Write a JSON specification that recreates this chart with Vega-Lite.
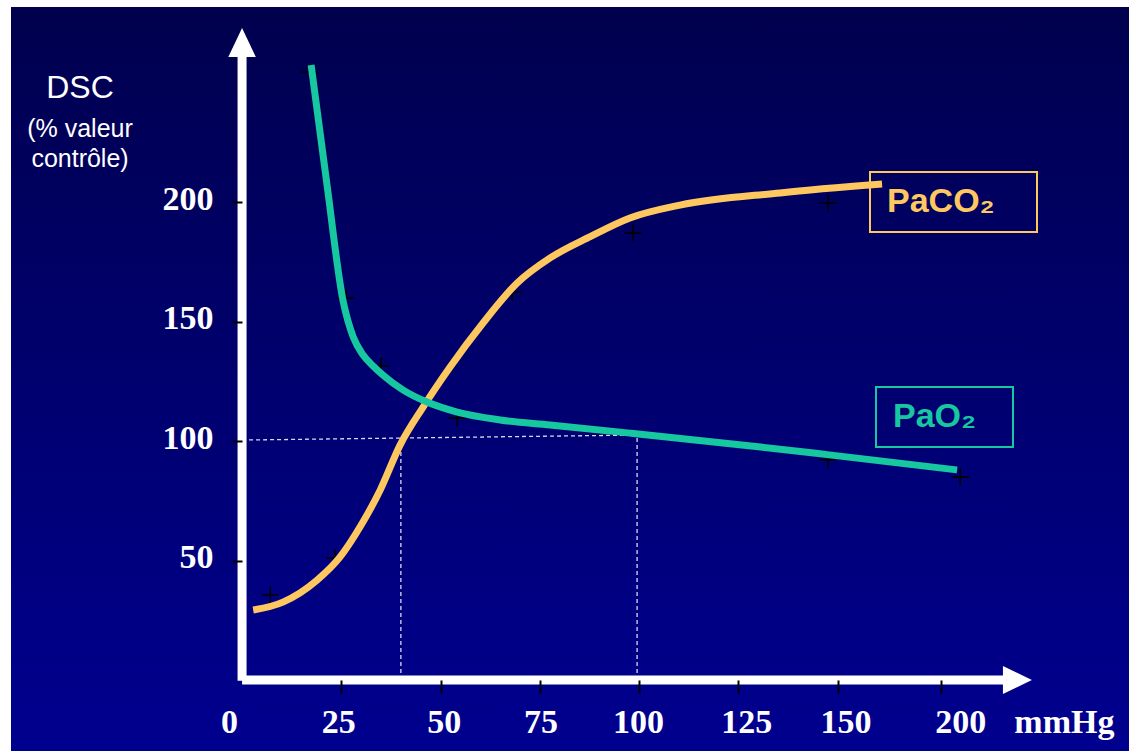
{
  "$schema": "https://vega.github.io/schema/vega-lite/v6.json",
  "width": 1118,
  "height": 744,
  "autosize": "none",
  "padding": {"left": 11, "top": 7, "right": 0, "bottom": 0},
  "background": "white",
  "view": {
    "fill": {"gradient": "linear", "x1": 0, "y1": 0, "x2": 0, "y2": 1,
      "stops": [{"offset": 0, "color": "#00004E"}, {"offset": 1, "color": "#00008F"}]},
    "stroke": null
  },
  "title": {
    "text": "DSC",
    "subtitle": ["(% valeur", "contrôle)"],
    "anchor": "start",
    "align": "center",
    "frame": "group",
    "offset": -166,
    "dx": 69,
    "font": "Liberation Sans",
    "fontSize": 32,
    "fontWeight": "normal",
    "color": "white",
    "subtitleFont": "Liberation Sans",
    "subtitleFontSize": 25,
    "subtitleColor": "white",
    "subtitlePadding": 12,
    "subtitleLineHeight": 30
  },
  "datasets": {
    "curves": [
      {"series": "PaCO₂", "mmHg": 2.8, "dsc": 29.3},
      {"series": "PaCO₂", "mmHg": 10.3, "dsc": 32.6},
      {"series": "PaCO₂", "mmHg": 18.9, "dsc": 41.8},
      {"series": "PaCO₂", "mmHg": 24.7, "dsc": 51.5},
      {"series": "PaCO₂", "mmHg": 29.7, "dsc": 64.0},
      {"series": "PaCO₂", "mmHg": 34.8, "dsc": 79.5},
      {"series": "PaCO₂", "mmHg": 39.8, "dsc": 98.3},
      {"series": "PaCO₂", "mmHg": 45.6, "dsc": 114.2},
      {"series": "PaCO₂", "mmHg": 52.4, "dsc": 131.0},
      {"series": "PaCO₂", "mmHg": 60.7, "dsc": 149.4},
      {"series": "PaCO₂", "mmHg": 69.3, "dsc": 166.1},
      {"series": "PaCO₂", "mmHg": 77.6, "dsc": 176.6},
      {"series": "PaCO₂", "mmHg": 87.7, "dsc": 185.5},
      {"series": "PaCO₂", "mmHg": 97.7, "dsc": 193.3},
      {"series": "PaCO₂", "mmHg": 110.3, "dsc": 198.7},
      {"series": "PaCO₂", "mmHg": 135.5, "dsc": 203.8},
      {"series": "PaCO₂", "mmHg": 161.2, "dsc": 207.5},
      {"series": "PaO₂", "mmHg": 17.4, "dsc": 257.3},
      {"series": "PaO₂", "mmHg": 21.4, "dsc": 207.1},
      {"series": "PaO₂", "mmHg": 25.4, "dsc": 159.0},
      {"series": "PaO₂", "mmHg": 28.0, "dsc": 143.5},
      {"series": "PaO₂", "mmHg": 30.5, "dsc": 136.0},
      {"series": "PaO₂", "mmHg": 33.0, "dsc": 131.4},
      {"series": "PaO₂", "mmHg": 35.5, "dsc": 127.6},
      {"series": "PaO₂", "mmHg": 40.6, "dsc": 121.3},
      {"series": "PaO₂", "mmHg": 46.6, "dsc": 116.3},
      {"series": "PaO₂", "mmHg": 54.2, "dsc": 112.1},
      {"series": "PaO₂", "mmHg": 65.0, "dsc": 108.8},
      {"series": "PaO₂", "mmHg": 77.6, "dsc": 106.7},
      {"series": "PaO₂", "mmHg": 97.7, "dsc": 103.3},
      {"series": "PaO₂", "mmHg": 130.6, "dsc": 97.5},
      {"series": "PaO₂", "mmHg": 147.4, "dsc": 94.3},
      {"series": "PaO₂", "mmHg": 180.1, "dsc": 87.9}
    ],
    "measures": [
      {"mmHg": 17.1, "dsc": 254.4},
      {"mmHg": 26.2, "dsc": 159.8},
      {"mmHg": 35.0, "dsc": 131.4},
      {"mmHg": 54.2, "dsc": 109.6},
      {"mmHg": 147.6, "dsc": 92.1},
      {"mmHg": 180.9, "dsc": 85.0},
      {"mmHg": 7.1, "dsc": 35.6},
      {"mmHg": 23.4, "dsc": 51.0},
      {"mmHg": 68.0, "dsc": 162.3},
      {"mmHg": 98.5, "dsc": 187.0},
      {"mmHg": 147.6, "dsc": 199.6}
    ],
    "refs": [
      {"xa": 0, "ya": 100.4, "xb": 99.5, "yb": 102.5},
      {"xa": 40, "ya": 0, "xb": 40, "yb": 100.6},
      {"xa": 99.5, "ya": 0, "xb": 99.5, "yb": 102.5}
    ],
    "frame": [
      {"xa": 0, "ya": -0.3, "xb": 0, "yb": 261},
      {"xa": 0, "ya": 0, "xb": 192, "yb": 0}
    ],
    "arrows": [
      {"dir": "up", "xa": 0, "ya": 266.7},
      {"dir": "right", "xa": 195.3, "ya": 0}
    ]
  },
  "layer": [
    {
      "data": {"name": "refs"},
      "mark": {"type": "rule", "color": "white", "strokeWidth": 1.3, "strokeDash": [4, 3], "opacity": 0.85},
      "encoding": {
        "x": {"field": "xa", "type": "quantitative", "scale": {"domain": [-58.2, 223.4], "nice": false, "zero": false}, "axis": null},
        "y": {"field": "ya", "type": "quantitative", "scale": {"domain": [-29.7, 281.6], "nice": false, "zero": false}, "axis": null},
        "x2": {"field": "xb"},
        "y2": {"field": "yb"}
      }
    },
    {
      "data": {"name": "measures"},
      "mark": {"type": "point", "shape": "M-1,0H1M0,-1V1", "filled": false, "color": "black", "strokeWidth": 1.6, "size": 289, "opacity": 1},
      "encoding": {
        "x": {"field": "mmHg", "type": "quantitative", "scale": {"domain": [-58.2, 223.4], "nice": false, "zero": false}, "axis": null},
        "y": {"field": "dsc", "type": "quantitative", "scale": {"domain": [-29.7, 281.6], "nice": false, "zero": false}, "axis": null}
      }
    },
    {
      "data": {"name": "curves"},
      "transform": [{"filter": {"field": "series", "equal": "PaCO₂"}}],
      "mark": {"type": "line", "strokeWidth": 7, "interpolate": "monotone", "opacity": 1},
      "encoding": {
        "x": {"field": "mmHg", "type": "quantitative", "scale": {"domain": [-58.2, 223.4], "nice": false, "zero": false},
          "axis": {"orient": "bottom", "offset": -71, "values": [-3.3, 24.2, 50.8, 75.2, 99.7, 127, 152, 180.9, 207],
            "labelExpr": "datum.value < 0 ? '0' : datum.value < 40 ? '25' : datum.value < 60 ? '50' : datum.value < 90 ? '75' : datum.value < 110 ? '100' : datum.value < 140 ? '125' : datum.value < 170 ? '150' : datum.value < 195 ? '200' : 'mmHg'",
            "domain": false, "grid": false, "tickOpacity": 0, "tickSize": 13, "labelPadding": 12,
            "labelFont": "Liberation Serif", "labelFontWeight": "bold", "labelFontSize": 34, "labelColor": "white",
            "labelOverlap": false, "labelFlush": false, "title": null, "zindex": 1}},
        "y": {"field": "dsc", "type": "quantitative", "scale": {"domain": [-29.7, 281.6], "nice": false, "zero": false},
          "axis": {"orient": "left", "offset": -231, "values": [50, 100, 150, 200], "domain": false, "grid": false,
            "tickColor": "black", "tickSize": 10, "tickWidth": 2, "labelPadding": 19, "labelOffset": -3,
            "labelFont": "Liberation Serif", "labelFontWeight": "bold", "labelFontSize": 34, "labelColor": "white",
            "labelOverlap": false, "labelFlush": false, "title": null, "zindex": 1}},
        "color": {"field": "series", "type": "nominal", "scale": {"domain": ["PaCO₂"], "range": ["#FFC760"]},
          "legend": {"orient": "none", "legendX": 859, "legendY": 165, "title": "MM", "titleOrient": "right",
            "titleColor": "rgba(0,0,0,0)", "titleFontSize": 16, "titlePadding": 2, "strokeColor": "#FFC760",
            "padding": 13, "labelFont": "Liberation Sans", "labelFontWeight": "bold", "labelFontSize": 34, "labelColor": "#FFC760",
            "labelLimit": 400, "labelOffset": -30, "symbolOpacity": 0, "symbolSize": 0, "symbolStrokeWidth": 0}}
      }
    },
    {
      "data": {"name": "curves"},
      "transform": [{"filter": {"field": "series", "equal": "PaO₂"}}],
      "mark": {"type": "line", "strokeWidth": 7, "interpolate": "monotone", "opacity": 1},
      "encoding": {
        "x": {"field": "mmHg", "type": "quantitative", "scale": {"domain": [-58.2, 223.4], "nice": false, "zero": false},
          "axis": {"orient": "bottom", "offset": -71, "values": [25, 50, 75, 100, 125, 150, 176], "labels": false,
            "domain": false, "grid": false, "tickColor": "black", "tickSize": 13, "tickWidth": 2, "title": null, "zindex": 2}},
        "y": {"field": "dsc", "type": "quantitative", "scale": {"domain": [-29.7, 281.6], "nice": false, "zero": false}, "axis": null},
        "color": {"field": "series", "type": "nominal", "scale": {"domain": ["PaO₂"], "range": ["#17C7A0"]},
          "legend": {"orient": "none", "legendX": 865, "legendY": 380, "title": "MM", "titleOrient": "right",
            "titleColor": "rgba(0,0,0,0)", "titleFontSize": 13, "titlePadding": 2, "strokeColor": "#17C7A0",
            "padding": 13, "labelFont": "Liberation Sans", "labelFontWeight": "bold", "labelFontSize": 34, "labelColor": "#17C7A0",
            "labelLimit": 400, "labelOffset": -30, "symbolOpacity": 0, "symbolSize": 0, "symbolStrokeWidth": 0}}
      }
    },
    {
      "data": {"name": "frame"},
      "mark": {"type": "rule", "color": "white", "strokeWidth": 9},
      "encoding": {
        "x": {"field": "xa", "type": "quantitative", "scale": {"domain": [-58.2, 223.4], "nice": false, "zero": false}, "axis": null},
        "y": {"field": "ya", "type": "quantitative", "scale": {"domain": [-29.7, 281.6], "nice": false, "zero": false}, "axis": null},
        "x2": {"field": "xb"},
        "y2": {"field": "yb"}
      }
    },
    {
      "data": {"name": "arrows"},
      "mark": {"type": "point", "filled": true, "color": "white", "size": 841, "opacity": 1, "strokeWidth": 0},
      "encoding": {
        "x": {"field": "xa", "type": "quantitative", "scale": {"domain": [-58.2, 223.4], "nice": false, "zero": false}, "axis": null},
        "y": {"field": "ya", "type": "quantitative", "scale": {"domain": [-29.7, 281.6], "nice": false, "zero": false}, "axis": null},
        "shape": {"field": "dir", "type": "nominal", "scale": {"domain": ["up", "right"], "range": ["M-0.95,1L0,-1L0.95,1Z", "M-1,-0.97L1,0L-1,0.97Z"]}, "legend": null}
      }
    }
  ],
  "resolve": {"scale": {"color": "independent"}, "axis": {"x": "independent", "y": "independent"}},
  "config": {"view": {"stroke": null}, "legend": {"strokeWidth": 2}}
}
